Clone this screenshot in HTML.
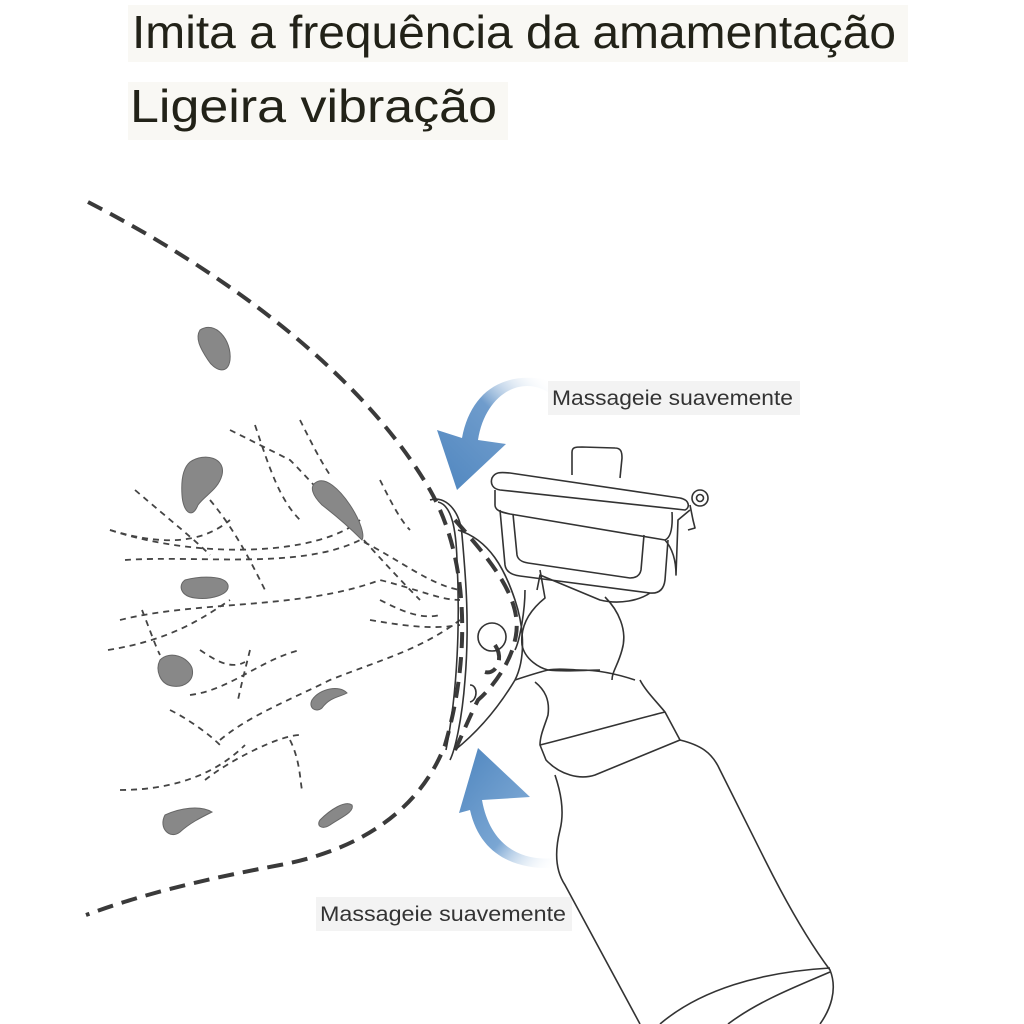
<!DOCTYPE html>
<html><head><meta charset="utf-8"><style>
html,body{margin:0;padding:0;background:#fff;}
svg{display:block;}
</style></head><body>
<svg width="1024" height="1024" viewBox="0 0 1024 1024" xmlns="http://www.w3.org/2000/svg">
<defs>
<linearGradient id="g1" x1="0" y1="1" x2="1" y2="0">
<stop offset="0" stop-color="#4f86bf"/><stop offset="0.6" stop-color="#6f9ccc"/><stop offset="1" stop-color="#ffffff" stop-opacity="0"/>
</linearGradient>
<linearGradient id="g2" x1="0" y1="0" x2="1" y2="1">
<stop offset="0" stop-color="#4f86bf"/><stop offset="0.6" stop-color="#7aa6d3"/><stop offset="1" stop-color="#ffffff" stop-opacity="0"/>
</linearGradient>
</defs>
<rect x="128" y="5" width="780" height="57" fill="#f9f8f4"/>
<rect x="128" y="82" width="380" height="58" fill="#f9f8f4"/>
<text x="132" y="48" font-family="Liberation Sans, sans-serif" font-size="46" fill="#222218" textLength="764" lengthAdjust="spacingAndGlyphs">Imita a frequência da amamentação</text>
<text x="130" y="122" font-family="Liberation Sans, sans-serif" font-size="46" fill="#222218" textLength="367" lengthAdjust="spacingAndGlyphs">Ligeira vibração</text>

<rect x="548" y="381" width="252" height="34" fill="#f3f3f3"/>
<text x="552" y="405" font-family="Liberation Sans, sans-serif" font-size="21" fill="#333" textLength="241" lengthAdjust="spacingAndGlyphs">Massageie suavemente</text>
<rect x="316" y="897" width="256" height="34" fill="#f3f3f3"/>
<text x="320" y="921" font-family="Liberation Sans, sans-serif" font-size="21" fill="#333" textLength="246" lengthAdjust="spacingAndGlyphs">Massageie suavemente</text>

<path d="M548,392 C520,375 485,395 478,440 L506,444 L457,490 L437,430 L462,438 C470,395 500,370 548,380 Z" fill="url(#g1)"/>
<path d="M556,858 C520,862 490,845 482,800 L530,797 L478,748 L459,813 L470,810 C480,855 515,870 556,868 Z" fill="url(#g2)"/>

<g fill="none" stroke="#3a3a3a" stroke-width="4" stroke-dasharray="16,9">
<path d="M88,202 C220,270 360,370 430,490 C470,560 470,660 445,745 C420,810 360,850 280,865 C200,880 140,895 86,915"/>
<path d="M455,520 C490,560 525,600 515,640 C510,665 490,690 478,700 C468,720 460,740 455,750"/>
<path d="M495,645 C505,660 495,675 485,672"/>
</g>
<g fill="none" stroke="#444" stroke-width="1.8" stroke-dasharray="6,5">
<path d="M110,530 C160,545 200,545 230,520"/>
<path d="M110,530 C200,560 320,555 360,520"/>
<path d="M135,490 C170,520 195,540 210,555"/>
<path d="M125,560 C200,555 300,570 360,540 C400,560 430,585 460,590"/>
<path d="M230,430 C250,440 270,450 290,460 C320,490 380,560 420,600"/>
<path d="M255,425 C270,470 280,500 300,520"/>
<path d="M210,500 C235,530 250,560 265,590"/>
<path d="M120,620 C200,600 300,610 380,580 C420,590 440,600 460,600"/>
<path d="M108,650 C170,640 200,620 230,600"/>
<path d="M142,610 C150,630 155,645 160,655"/>
<path d="M200,650 C215,660 230,670 245,662"/>
<path d="M190,695 C230,690 260,660 300,650"/>
<path d="M220,740 C250,715 290,700 330,680 C380,660 420,650 460,620"/>
<path d="M370,620 C400,625 430,630 460,625"/>
<path d="M380,600 C400,610 420,620 440,615"/>
<path d="M170,710 C190,720 210,735 220,745"/>
<path d="M205,780 C230,760 280,735 300,735"/>
<path d="M120,790 C180,790 220,770 245,745"/>
<path d="M290,740 C300,760 300,780 302,790"/>
<path d="M300,420 C310,440 320,460 330,475"/>
<path d="M380,480 C390,500 400,520 410,530"/>
<path d="M250,650 C245,670 240,690 238,700"/>
</g>
<g fill="#888" stroke="#666" stroke-width="1">
<path d="M200,330 C215,320 232,340 230,360 C228,376 214,370 208,360 C200,348 195,338 200,330 Z"/>
<path d="M190,462 C205,452 226,458 222,475 C218,490 205,495 198,505 C192,520 183,512 182,495 C181,480 183,468 190,462 Z"/>
<path d="M315,483 C325,475 340,490 350,505 C360,520 365,535 362,540 C352,530 335,515 322,505 C312,495 310,487 315,483 Z"/>
<path d="M185,580 C200,576 225,575 228,585 C230,595 210,600 195,598 C180,596 178,585 185,580 Z"/>
<path d="M160,660 C170,650 188,657 192,668 C195,680 185,688 172,686 C160,684 155,670 160,660 Z"/>
<path d="M312,700 C320,688 340,685 347,693 C340,697 330,697 322,708 C316,713 308,708 312,700 Z"/>
<path d="M165,815 C180,808 200,805 212,812 C200,818 190,823 180,832 C170,840 158,828 165,815 Z"/>
<path d="M320,820 C330,810 345,800 352,805 C355,812 340,818 330,825 C322,830 316,826 320,820 Z"/>
</g>

<g fill="none" stroke="#333" stroke-width="1.6" stroke-linejoin="round">
<path d="M430,500 C445,495 460,510 462,535 C465,570 470,620 465,680 C462,720 455,750 450,760"/>
<path d="M438,502 C452,505 456,530 457,560 C460,620 458,690 446,750"/>
<path d="M458,530 C490,540 505,570 515,600 C525,630 525,660 515,680 C500,705 480,730 455,750"/>
<circle cx="492" cy="637" r="14"/>
<path d="M470,685 C478,685 478,700 470,702"/>
<path d="M572,475 L572,452 C572,447 576,447 582,447 L615,448 C621,448 622,452 622,458 L620,478"/>
<path d="M492,478 C495,472 500,472 510,473 L680,498 C690,500 690,508 685,510 L500,490 C493,489 490,484 492,478 Z"/>
<path d="M495,490 L495,505 C495,510 500,512 510,514 L665,540 C670,538 673,530 672,512"/>
<path d="M500,510 L505,565 C506,572 512,575 520,576 L650,593 C660,594 664,588 665,580 L668,540"/>
<path d="M513,514 L517,555 C518,560 522,562 528,563 L630,578 C637,578 640,575 641,570 L644,535"/>
<path d="M665,540 C672,548 676,560 676,575 L678,520 L690,510"/>
<circle cx="700" cy="498" r="8"/><circle cx="700" cy="498" r="3.5"/>
<path d="M690,505 L693,520 L695,528 L688,530"/>
<path d="M650,593 C640,600 620,605 600,600 L540,575 L537,590"/>
<path d="M525,590 C525,610 520,640 515,650"/>
<path d="M540,570 L545,598 C530,610 520,625 522,645 C525,660 540,668 548,670 C565,672 585,670 600,670"/>
<path d="M605,597 C618,610 628,630 622,650 C618,665 612,672 612,680"/>
<path d="M515,680 C530,675 540,672 548,670 C560,668 570,670 580,670 C600,670 620,675 635,680"/>
<path d="M535,682 C545,690 550,700 548,715 C545,725 540,735 540,745 L546,760 C560,775 580,780 595,775 L680,740 L665,712 C655,700 645,690 640,680"/>
<path d="M540,745 C580,735 625,722 665,712"/>
<path d="M555,775 C560,790 565,810 560,830 C555,850 555,870 565,885 L640,1024"/>
<path d="M680,740 C700,745 712,752 720,770 L765,860 C795,920 815,950 830,970 C838,990 830,1010 820,1024"/>
<path d="M660,1024 C700,990 760,972 830,968"/>
<path d="M728,1024 C760,1000 800,985 830,972"/>
</g>
</svg>
</body></html>
